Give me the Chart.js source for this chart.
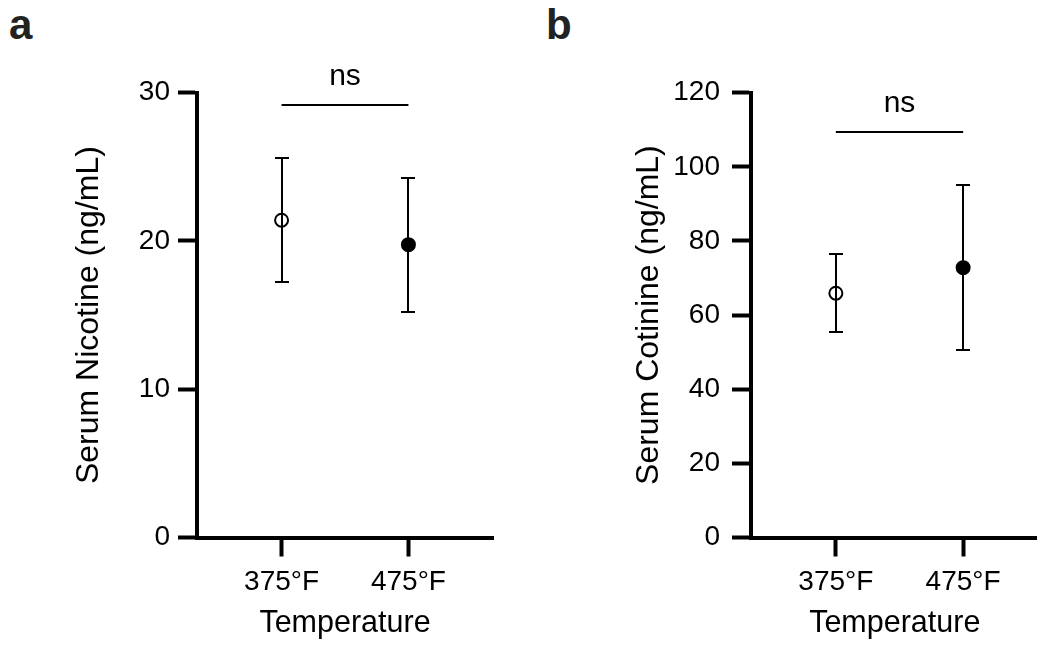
<!DOCTYPE html>
<html>
<head>
<meta charset="utf-8">
<script src="https://cdn.jsdelivr.net/npm/chart.js@4"></script>
<style>
  html, body { margin: 0; padding: 0; background: #fff; overflow: hidden; }
  body { width: 1037px; height: 647px; position: relative; font-family: "Liberation Sans", Arial, sans-serif; }
  canvas { position: absolute; top: 0; }
  .tag { position: absolute; top: 4px; font-weight: bold; font-size: 42px; line-height: 42px; color: #222; }
</style>
</head>
<body>
<div class="tag" style="left:9px">a</div>
<div class="tag" style="left:546px">b</div>
<canvas id="panelA" width="520" height="647" style="left:0"></canvas>
<canvas id="panelB" width="527" height="647" style="left:520px"></canvas>
<script>
// categories
var temps = ["375°F", "475°F"];

// panel a - serum nicotine (mean, lower and upper end of error bar)
var nicotineMean = [21.4, 19.75];
var nicotineLow = [17.25, 15.2];
var nicotineHigh = [25.6, 24.25];
var nicotineNs = 29.15;

// panel b - serum cotinine
var cotinineMean = [65.9, 72.8];
var cotinineLow = [55.5, 50.5];
var cotinineHigh = [76.4, 95.1];
var cotinineNs = 109.3;

var fontFam = '"Liberation Sans", Arial, Helvetica, sans-serif';

// error bars are drawn under the markers, the ns bar on top
var errorBars = {
    id: "errorBars",
    beforeDatasetsDraw: function (chart, args, opts) {
        var ctx = chart.ctx, xs = chart.scales.x, ys = chart.scales.y;
        ctx.save();
        ctx.strokeStyle = "#000";
        ctx.lineWidth = 2;
        for (var i = 0; i < opts.low.length; i++) {
            var x = Math.round(xs.getPixelForValue(i + 1));
            var y1 = Math.round(ys.getPixelForValue(opts.low[i]));
            var y2 = Math.round(ys.getPixelForValue(opts.high[i]));
            ctx.beginPath();
            ctx.moveTo(x, y1); ctx.lineTo(x, y2);
            ctx.moveTo(x - 7, y1); ctx.lineTo(x + 7, y1);
            ctx.moveTo(x - 7, y2); ctx.lineTo(x + 7, y2);
            ctx.stroke();
        }
        ctx.restore();
    },
    afterDraw: function (chart, args, opts) {
        var ctx = chart.ctx, xs = chart.scales.x, ys = chart.scales.y;
        var y = Math.round(ys.getPixelForValue(opts.ns));
        var xa = xs.getPixelForValue(1), xb = xs.getPixelForValue(2);
        ctx.save();
        ctx.strokeStyle = "#000";
        ctx.lineWidth = 2;
        ctx.beginPath();
        ctx.moveTo(xa, y); ctx.lineTo(xb, y);
        ctx.stroke();
        ctx.fillStyle = "#000";
        ctx.font = "30px " + fontFam;
        ctx.textAlign = "center";
        ctx.textBaseline = "alphabetic";
        ctx.fillText("ns", (xa + xb) / 2, y - 20);
        ctx.restore();
    }
};

function makePanel(id, p) {
    var pts = p.mean.map(function (v, i) { return { x: i + 1, y: v }; });
    return new Chart(document.getElementById(id), {
        type: "scatter",
        data: {
            datasets: [{
                data: pts,
                pointRadius: 6.5,
                pointHoverRadius: 6.5,
                pointBorderWidth: 2,
                pointBorderColor: "#000",
                pointBackgroundColor: ["rgba(0,0,0,0)", "#000"]
            }]
        },
        options: {
            responsive: false,
            animation: false,
            devicePixelRatio: 1,
            layout: { padding: { top: 92.7, right: p.padRight, bottom: 0, left: 0 } },
            plugins: {
                legend: { display: false },
                tooltip: { enabled: false },
                errorBars: { low: p.low, high: p.high, ns: p.ns }
            },
            scales: {
                x: {
                    type: "linear",
                    min: 1 / 3,
                    max: p.xMax,
                    afterBuildTicks: function (s) { s.ticks = temps.map(function (t, i) { return { value: i + 1 }; }); },
                    afterFit: function (s) { s.height = 109.5; },
                    ticks: {
                        color: "#000",
                        padding: 9,
                        font: { family: fontFam, size: 28 },
                        callback: function (v) { return temps[v - 1]; }
                    },
                    grid: { drawOnChartArea: false, tickLength: 19, tickWidth: 4, tickColor: "#000" },
                    border: { display: true, width: 4, color: "#000" },
                    title: {
                        display: true,
                        text: "Temperature",
                        color: "#000",
                        font: { family: fontFam, size: 30.5 },
                        padding: { top: 0, bottom: 5.4 }
                    }
                },
                y: {
                    min: 0,
                    max: p.yMax,
                    afterFit: function (s) { s.width = p.axisX; },
                    ticks: {
                        stepSize: p.step,
                        color: "#000",
                        padding: p.labelPad,
                        font: { family: fontFam, size: 28 }
                    },
                    grid: { drawOnChartArea: false, tickLength: 19, tickWidth: 4, tickColor: "#000" },
                    border: { display: true, width: 4, color: "#000" },
                    title: {
                        display: true,
                        text: p.title,
                        color: "#000",
                        font: { family: fontFam, size: 32 },
                        padding: { top: p.titlePad, bottom: 0 }
                    }
                }
            }
        },
        plugins: [errorBars]
    });
}

makePanel("panelA", {
    mean: nicotineMean, low: nicotineLow, high: nicotineHigh, ns: nicotineNs,
    yMax: 30, step: 10, title: "Serum Nicotine (ng/mL)",
    axisX: 197, padRight: 27, xMax: 8 / 3, labelPad: 8, titlePad: 70
});

makePanel("panelB", {
    mean: cotinineMean, low: cotinineLow, high: cotinineHigh, ns: cotinineNs,
    yMax: 120, step: 20, title: "Serum Cotinine (ng/mL)",
    axisX: 231, padRight: 0, xMax: 1 / 3 + 288 / 127.5, labelPad: 12, titlePad: 110
});
</script>
</body>
</html>
